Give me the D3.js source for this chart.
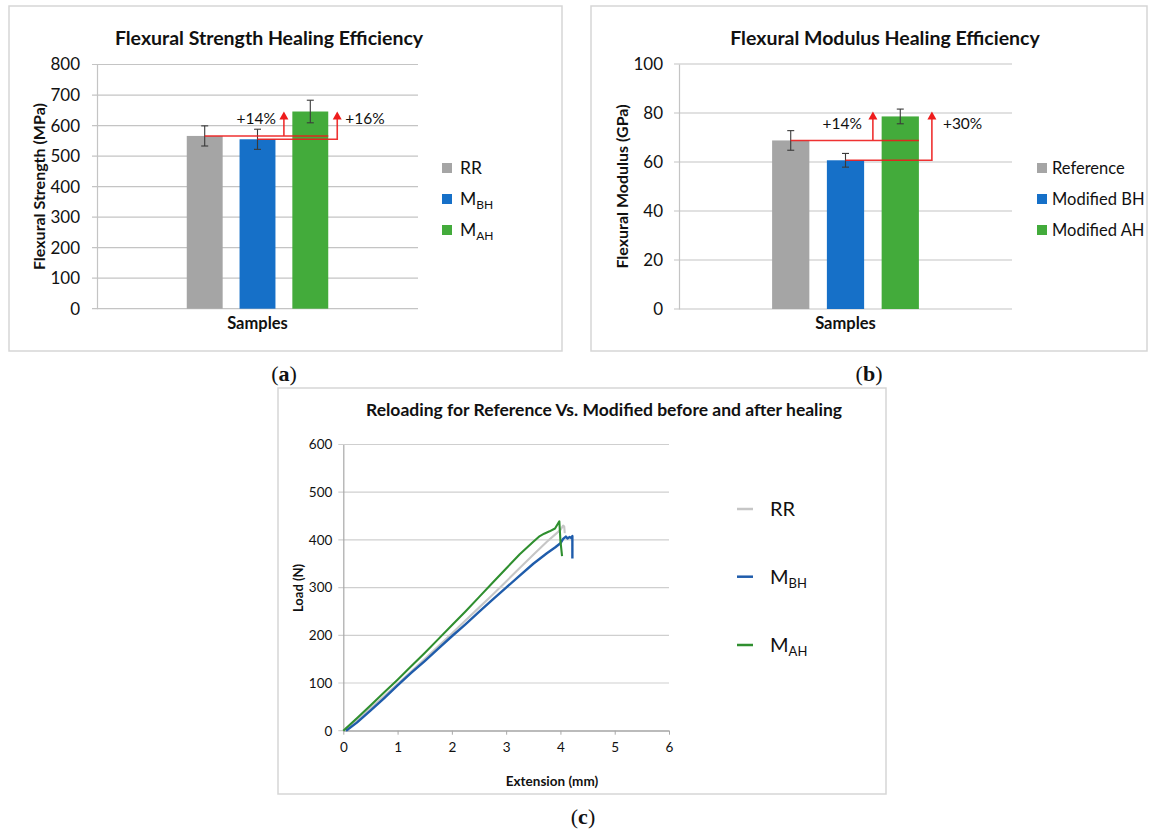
<!DOCTYPE html>
<html lang="en">
<head>
<meta charset="UTF-8">
<title>Healing efficiency</title>
<script src="https://cdn.jsdelivr.net/npm/d3@7"></script>
<style>
  body { margin: 0; background: #fff; }
  svg text { font-family: Lato, "Open Sans", sans-serif; fill: #111; }
  .frame { fill: none; stroke: #d6d6d6; stroke-width: 1.5; }
  .panel-tag { font-family: "Liberation Serif", serif !important; font-size: 22px; }
</style>
</head>
<body>
<svg id="chart" width="1150" height="832"></svg>
<script>
// ---- (a) flexural strength ----
var samples = ["Samples"];
var strengthSeries = ["RR", "MBH", "MAH"];
var strengthValues = [566, 555, 646];
var strengthErrors = [33, 33, 37];
var strengthTicks = [0, 100, 200, 300, 400, 500, 600, 700, 800];
var strengthGains = ["+14%", "+16%"];
var strengthLegend = [["RR", ""], ["M", "BH"], ["M", "AH"]];

// ---- (b) flexural modulus ----
var modulusSeries = ["Reference", "Modified BH", "Modified AH"];
var modulusValues = [68.8, 60.7, 78.6];
var modulusErrors = [4, 2.8, 3];
var modulusTicks = [0, 20, 40, 60, 80, 100];
var modulusGains = ["+14%", "+30%"];
var modulusLegend = [["Reference", ""], ["Modified BH", ""], ["Modified AH", ""]];

// ---- (c) reloading curves: [extension mm, load N] ----
var rrCurve = [[0,0],[0.25,22],[0.5,47],[0.75,72],[1,98],[1.25,124],[1.5,150],[1.75,177],[2,204],[2.25,231],[2.5,258],[2.75,285],[3,313],[3.25,341],[3.5,369],[3.75,396],[3.9,411],[4.0,421],[4.05,430],[4.07,428],[4.08,414]];
var mbhCurve = [[0.05,0],[0.25,17],[0.5,42],[0.75,68],[1,95],[1.25,121],[1.5,146],[1.75,172],[2,198],[2.25,223],[2.5,249],[2.75,275],[3,300],[3.25,325],[3.5,350],[3.75,372],[3.9,384],[4.0,393],[4.05,402],[4.1,407],[4.13,403],[4.17,406],[4.2,404],[4.22,408],[4.22,361]];
var mahCurve = [[0,0],[0.25,26],[0.5,53],[0.75,80],[1,107],[1.25,135],[1.5,163],[1.75,192],[2,221],[2.25,250],[2.5,280],[2.75,310],[3,340],[3.25,370],[3.5,396],[3.62,408],[3.7,413],[3.8,418],[3.9,424],[3.98,439],[4.0,398],[4.03,366]];
var curveTicksX = [0, 1, 2, 3, 4, 5, 6];
var curveTicksY = [0, 100, 200, 300, 400, 500, 600];
var curveLegend = [["RR", ""], ["M", "BH"], ["M", "AH"]];

var barColors = ["#a5a5a5", "#1670c8", "#43ab3b"];
var lineColors = ["#c6c6c6", "#1f5cab", "#2f8f2f"];
var red = "#ee1c1c";

var svg = d3.select("#chart");

function legendText(sel, d, size, subSize) {
  sel.append("tspan").text(d[0]);
  if (d[1]) sel.append("tspan").attr("dy", 4).style("font-size", subSize + "px").text(d[1]);
}

function barPanel(o) {
  var g = svg.append("g");
  g.append("rect").attr("class", "frame")
      .attr("x", o.frame[0]).attr("y", o.frame[1]).attr("width", o.frame[2]).attr("height", o.frame[3]);

  var x0 = d3.scaleBand().domain(samples).range([o.left, o.right]);
  var x1 = d3.scaleBand().domain(o.series).range([0, x0.bandwidth()])
      .paddingInner(0.32).paddingOuter(1.7);
  var y = d3.scaleLinear().domain([0, d3.max(o.ticks)]).range([o.bottom, o.top]);

  // gridlines
  g.append("g").selectAll("line").data(o.ticks).join("line")
      .attr("x1", o.left - 5).attr("x2", o.right)
      .attr("y1", function(d) { return y(d); }).attr("y2", function(d) { return y(d); })
      .attr("stroke", "#c4c4c4").attr("stroke-width", 1.2);

  var yAxis = d3.axisLeft(y).tickValues(o.ticks).tickSize(0).tickPadding(o.pad);
  var ax = g.append("g").attr("transform", "translate(" + o.left + ",0)").call(yAxis);
  ax.select(".domain").attr("stroke", "#c4c4c4").attr("stroke-width", 1.2);
  ax.selectAll("text").style("font-size", "17px").attr("fill", "#222");

  g.append("text").attr("x", o.titleX).attr("y", 38).attr("dy", "0.35em")
      .attr("text-anchor", "middle").style("font-weight", "bold").style("font-size", "19.5px")
      .text(o.title);
  g.append("text").attr("transform", "translate(" + o.yTitleX + "," + ((o.top + o.bottom) / 2) + ") rotate(-90)")
      .attr("dy", "0.35em").attr("text-anchor", "middle")
      .style("font-weight", "bold").style("font-size", "16px").text(o.yTitle);
  g.append("text").attr("x", x0("Samples") + x0.bandwidth() / 2).attr("y", 323).attr("dy", "0.35em")
      .attr("text-anchor", "middle").style("font-weight", "bold").style("font-size", "16.5px").text("Samples");

  var rows = o.series.map(function(s, i) {
    return { name: s, value: o.values[i], err: o.errors[i], color: barColors[i] };
  });
  var slice = g.append("g").attr("transform", "translate(" + x0("Samples") + ",0)");
  slice.selectAll("rect").data(rows).join("rect")
      .attr("x", function(d) { return x1(d.name); })
      .attr("width", x1.bandwidth())
      .attr("y", function(d) { return y(d.value); })
      .attr("height", function(d) { return y(0) - y(d.value); })
      .attr("fill", function(d) { return d.color; });

  // error bars
  var eb = slice.selectAll(".err").data(rows).join("g").attr("class", "err")
      .attr("stroke", "#3a3a3a").attr("stroke-width", 1.1);
  eb.append("line")
      .attr("x1", function(d) { return x1(d.name) + x1.bandwidth() / 2; })
      .attr("x2", function(d) { return x1(d.name) + x1.bandwidth() / 2; })
      .attr("y1", function(d) { return y(d.value - d.err); })
      .attr("y2", function(d) { return y(d.value + d.err); });
  [-1, 1].forEach(function(s) {
    eb.append("line")
        .attr("x1", function(d) { return x1(d.name) + x1.bandwidth() / 2 - 3.5; })
        .attr("x2", function(d) { return x1(d.name) + x1.bandwidth() / 2 + 3.5; })
        .attr("y1", function(d) { return y(d.value + s * d.err); })
        .attr("y2", function(d) { return y(d.value + s * d.err); });
  });

  // healing efficiency arrows
  var cx = function(i) { return x0("Samples") + x1(o.series[i]) + x1.bandwidth() / 2; };
  var rightEdge = x0("Samples") + x1(o.series[2]) + x1.bandwidth();
  var gapMid = x0("Samples") + (x1(o.series[1]) + x1.bandwidth() + x1(o.series[2])) / 2;
  var arrow2 = rightEdge + o.arrowGap;
  var top = y(o.values[2]) - o.tipLift;
  var ann = g.append("g").attr("stroke", red).attr("stroke-width", 1.6).attr("fill", "none").attr("opacity", 0.9);
  ann.append("path").attr("d", "M" + cx(0) + "," + y(o.values[0]) + "H" + rightEdge +
      "M" + gapMid + "," + y(o.values[0]) + "V" + (top + 7));
  ann.append("path").attr("d", "M" + cx(1) + "," + y(o.values[1]) + "H" + arrow2 + "V" + (top + 7));
  [gapMid, arrow2].forEach(function(ax) {
    g.append("path").attr("fill", red)
        .attr("d", "M" + ax + "," + top + "l4.5,8h-9z");
  });
  g.append("text").attr("x", gapMid - o.labelGap).attr("y", y(o.values[2]) + 7).attr("dy", "0.35em")
      .attr("text-anchor", "end").style("font-size", "15.5px").text(o.gains[0]);
  g.append("text").attr("x", arrow2 + o.labelGap).attr("y", y(o.values[2]) + 7).attr("dy", "0.35em")
      .style("font-size", "15.5px").text(o.gains[1]);

  // legend
  var lg = g.selectAll(".legend").data(o.legend).join("g").attr("class", "legend")
      .attr("transform", function(d, i) { return "translate(" + o.legendX + "," + (o.legendY + i * 31) + ")"; });
  lg.append("rect").attr("x", 0).attr("y", -5).attr("width", 10).attr("height", 10)
      .attr("fill", function(d, i) { return barColors[i]; });
  lg.append("text").attr("x", o.legendTextDx).attr("dy", "0.35em")
      .style("font-size", o.legendSize + "px")
      .each(function(d) { legendText(d3.select(this), d, o.legendSize, 12); });
}

barPanel({
  frame: [9, 6, 553, 345], left: 97, right: 418, top: 64.5, bottom: 308.7, pad: 17,
  series: strengthSeries, values: strengthValues, errors: strengthErrors, ticks: strengthTicks,
  gains: strengthGains, legend: strengthLegend,
  title: "Flexural Strength Healing Efficiency", titleX: 269,
  yTitle: "Flexural Strength (MPa)", yTitleX: 39,
  arrowGap: 9, tipLift: 0, labelGap: 8,
  legendX: 442, legendY: 168, legendTextDx: 18, legendSize: 17.5
});

barPanel({
  frame: [591, 6, 556, 345], left: 679, right: 1012, top: 64, bottom: 309, pad: 16,
  series: modulusSeries, values: modulusValues, errors: modulusErrors, ticks: modulusTicks,
  gains: modulusGains, legend: modulusLegend,
  title: "Flexural Modulus Healing Efficiency", titleX: 885,
  yTitle: "Flexural Modulus (GPa)", yTitleX: 622,
  arrowGap: 13, tipLift: 5, labelGap: 11,
  legendX: 1037, legendY: 168, legendTextDx: 15, legendSize: 16.5
});

// ---- panel (c) ----
var gc = svg.append("g");
gc.append("rect").attr("class", "frame").attr("x", 278).attr("y", 388).attr("width", 608).attr("height", 406);

var xc = d3.scaleLinear().domain([0, 6]).range([343.3, 669]);
var yc = d3.scaleLinear().domain([0, 600]).range([730.7, 444.5]);

gc.append("g").selectAll("line").data(curveTicksY).join("line")
    .attr("x1", xc(0) - 5).attr("x2", xc(6))
    .attr("y1", function(d) { return yc(d); }).attr("y2", function(d) { return yc(d); })
    .attr("stroke", "#cfcfcf").attr("stroke-width", 1.2);

var yAxisC = gc.append("g").attr("transform", "translate(" + xc(0) + ",0)")
    .call(d3.axisLeft(yc).tickValues(curveTicksY).tickSize(0).tickPadding(11));
yAxisC.select(".domain").attr("stroke", "#a8a8a8").attr("stroke-width", 1.2);
yAxisC.selectAll("text").style("font-size", "13.5px").attr("fill", "#555");

var xAxisC = gc.append("g").attr("transform", "translate(0," + yc(0) + ")")
    .call(d3.axisBottom(xc).tickValues(curveTicksX).tickFormat(d3.format("d")).tickSizeInner(4).tickSizeOuter(0).tickPadding(8));
xAxisC.select(".domain").attr("stroke", "#a8a8a8").attr("stroke-width", 1.2);
xAxisC.selectAll(".tick line").attr("stroke", "#a8a8a8");
xAxisC.selectAll("text").style("font-size", "13.5px").attr("fill", "#555");

gc.append("text").attr("x", 604).attr("y", 409.6).attr("dy", "0.35em").attr("text-anchor", "middle")
    .style("font-weight", "bold").style("font-size", "17.5px")
    .text("Reloading for Reference Vs. Modified before and after healing");
gc.append("text").attr("transform", "translate(298.7,588) rotate(-90)").attr("dy", "0.35em")
    .attr("text-anchor", "middle").style("font-weight", "bold").style("font-size", "13px").text("Load (N)");
gc.append("text").attr("x", 552).attr("y", 781).attr("dy", "0.35em").attr("text-anchor", "middle")
    .style("font-weight", "bold").style("font-size", "13.5px").text("Extension (mm)");

var line = d3.line().x(function(d) { return xc(d[0]); }).y(function(d) { return yc(d[1]); });
[rrCurve, mbhCurve, mahCurve].forEach(function(c, i) {
  gc.append("path").datum(c).attr("d", line).attr("fill", "none")
      .attr("stroke", lineColors[i]).attr("stroke-width", i === 1 ? 2.4 : 2.1)
      .attr("stroke-linejoin", "round");
});

var lgc = gc.selectAll(".clegend").data(curveLegend).join("g").attr("class", "clegend")
    .attr("transform", function(d, i) { return "translate(737," + [509, 576.7, 645][i] + ")"; });
lgc.append("line").attr("x1", 0).attr("x2", 16).attr("stroke-width", 2.5)
    .attr("stroke", function(d, i) { return lineColors[i]; });
lgc.append("text").attr("x", 33).attr("dy", "0.35em").style("font-size", "20px")
    .each(function(d) { legendText(d3.select(this), d, 20, 13); });

// panel tags
[["a", 284, 373], ["b", 869, 373], ["c", 583, 816]].forEach(function(t) {
  var tx = svg.append("text").attr("class", "panel-tag").attr("x", t[1]).attr("y", t[2])
      .attr("dy", "0.35em").attr("text-anchor", "middle");
  tx.append("tspan").text("(");
  tx.append("tspan").style("font-weight", "bold").text(t[0]);
  tx.append("tspan").text(")");
});
</script>
</body>
</html>
